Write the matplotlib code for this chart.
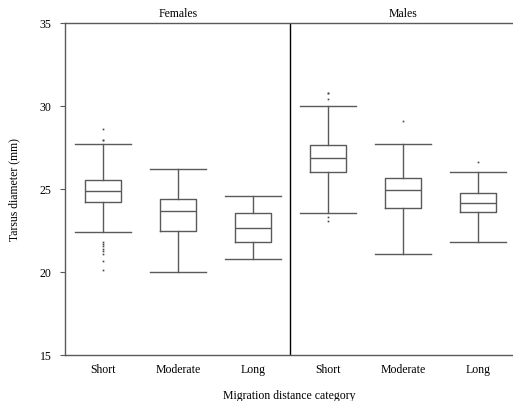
import numpy as np
import matplotlib.pyplot as plt

plt.rcParams['font.family'] = ['Liberation Serif', 'DejaVu Serif']

groups = ['Females', 'Males']
categories = ['Short', 'Moderate', 'Long']

# whisker low, q1, median, q3, whisker high  (Females then Males)
whislo = [22.4, 20.0, 20.77, 23.55, 21.1, 21.8]
q1 = [24.2, 22.5, 21.8, 26.0, 23.86, 23.6]
med = [24.86, 23.66, 22.63, 26.87, 24.96, 24.14]
q3 = [25.54, 24.4, 23.55, 27.63, 25.64, 24.74]
whishi = [27.7, 26.2, 24.6, 29.98, 27.7, 26.0]
fliers = [
    [28.6, 27.93, 27.93, 21.79, 21.69, 21.57, 21.39, 21.27, 21.08, 20.68, 20.12],
    [],
    [],
    [30.78, 30.78, 30.42, 23.33, 23.09],
    [29.08],
    [26.65],
]

stats = []
for i in range(6):
    stats.append(dict(whislo=whislo[i], q1=q1[i], med=med[i], q3=q3[i],
                      whishi=whishi[i], fliers=fliers[i]))

fig = plt.figure(figsize=(5.13, 4.02), dpi=100)
ax = fig.add_axes([65 / 513, 46 / 402, 448 / 513, 332 / 402])

grey = '#5a5a5a'
ax.bxp(stats, positions=range(1, 7), widths=0.48, showfliers=True,
       boxprops=dict(color=grey, lw=1.0),
       whiskerprops=dict(color=grey, lw=1.0),
       capprops=dict(color=grey, lw=1.0),
       medianprops=dict(color=grey, lw=1.0),
       flierprops=dict(marker='s', markersize=1.2, markerfacecolor='#444444',
                       markeredgecolor='none'),
       capwidths=0.75)

ax.set_xlim(0.493, 6.47)
ax.set_ylim(15, 35)
ax.set_yticks([15, 20, 25, 30, 35])
ax.set_xticks(range(1, 7))
ax.set_xticklabels(categories * 2, fontsize=8.5)
ax.tick_params(axis='x', length=0, pad=6)
ax.tick_params(axis='y', length=3.6, direction='out', color=grey, labelsize=8.5, pad=6)

for s in ['left', 'bottom', 'top']:
    ax.spines[s].set_color(grey)
    ax.spines[s].set_linewidth(1.0)
ax.spines['right'].set_visible(False)

ax.axvline(3.5, color='black', lw=1.0)

for j, g in enumerate(groups):
    ax.text(2 + 3 * j, 35.25, g, ha='center', va='bottom', fontsize=8.5)

ax.set_ylabel('Tarsus diameter (mm)', fontsize=8.5, labelpad=14)
ax.set_xlabel('Migration distance category', fontsize=8.5, labelpad=10)

fig.savefig('out.png', dpi=100)
